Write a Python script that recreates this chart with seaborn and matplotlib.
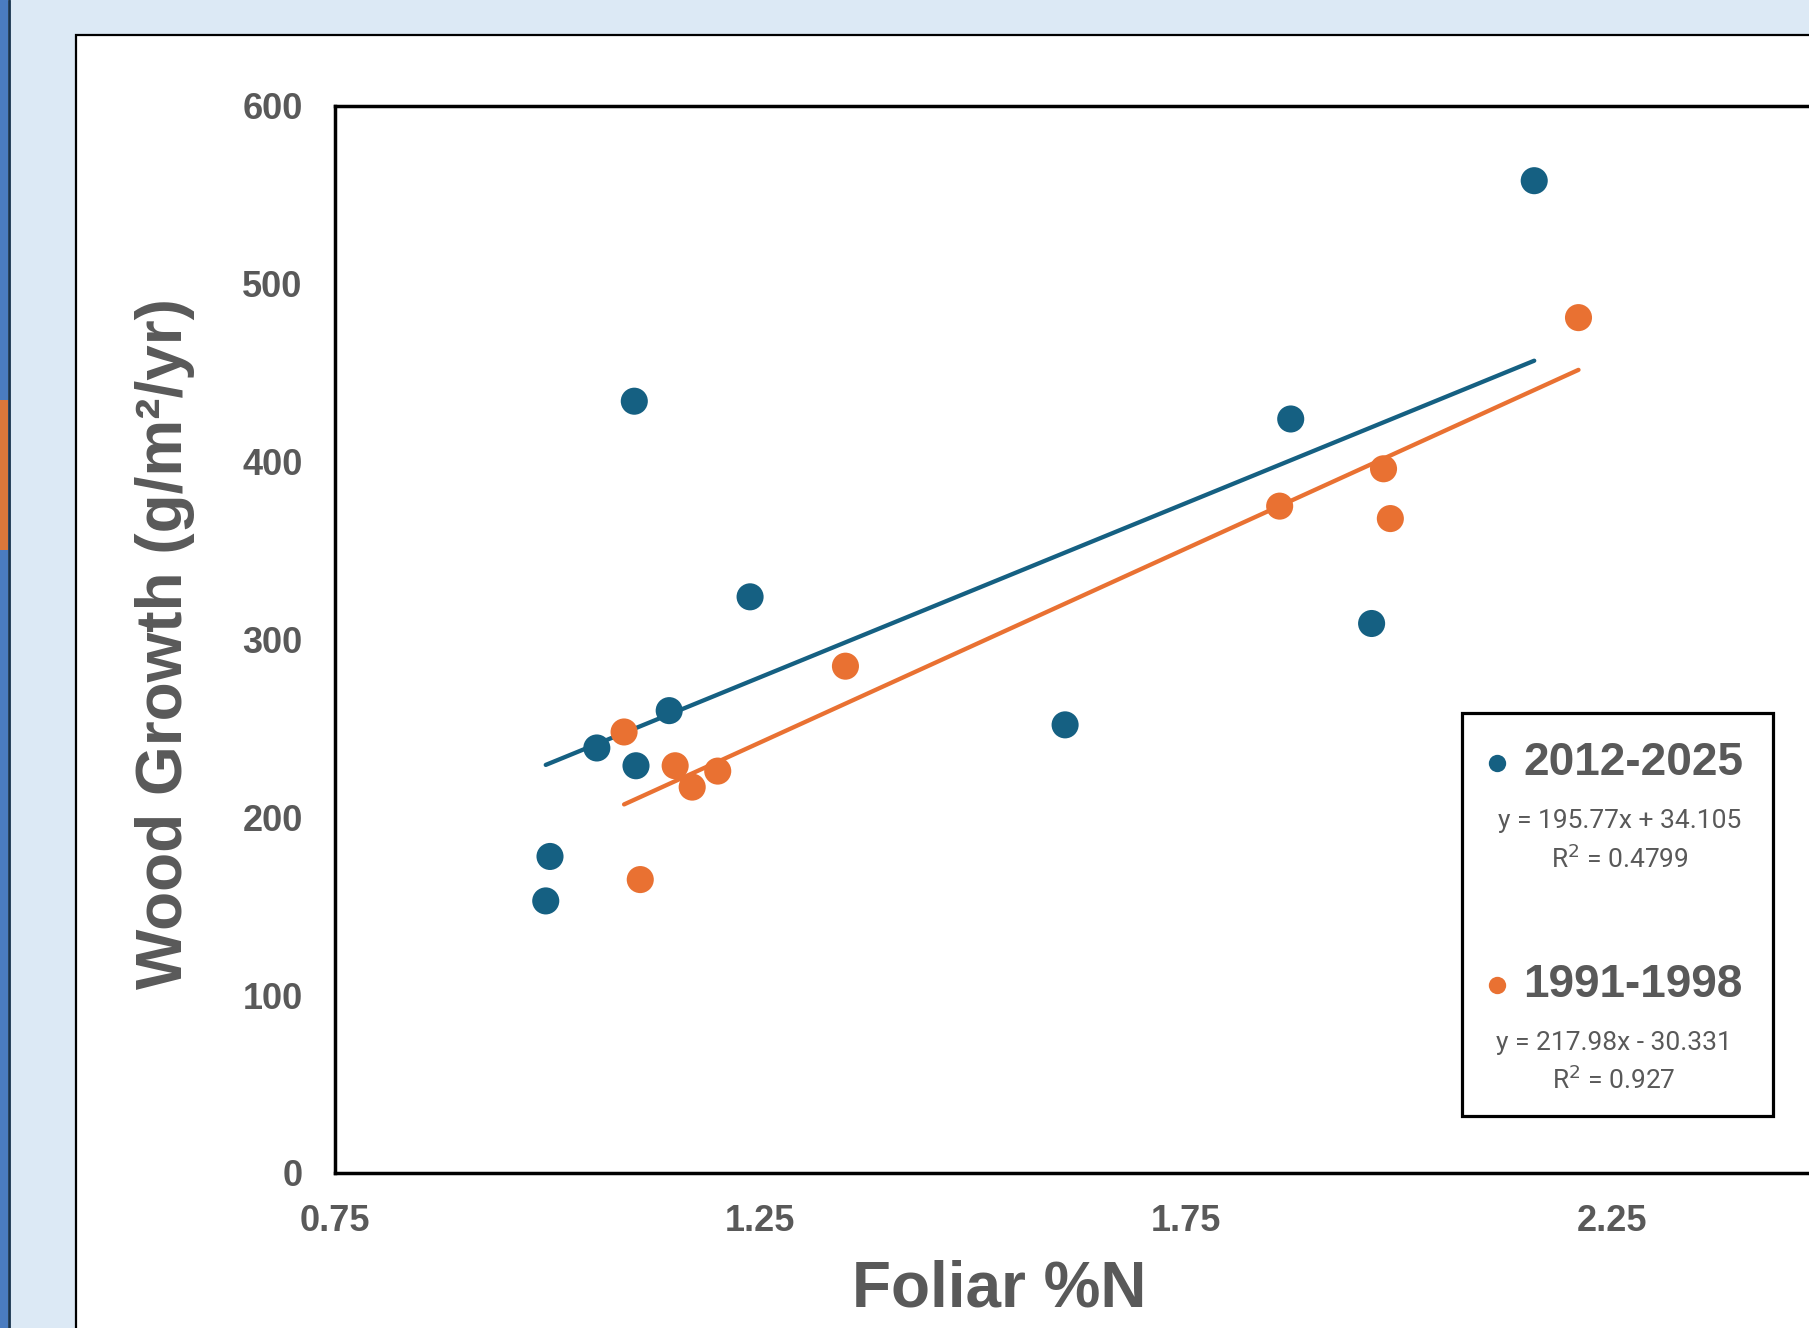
import numpy as np
import pandas as pd
import matplotlib
matplotlib.use("Agg")
import matplotlib.pyplot as plt
import seaborn as sns
from matplotlib.patches import Rectangle
from matplotlib.lines import Line2D

# data
recent_n = [1.102, 2.159, 1.873, 1.238, 1.968, 1.143, 1.608, 1.058, 1.104, 1.003, 0.998]
recent_growth = [434, 558, 424, 324, 309, 260, 252, 239, 229, 178, 153]
old_n = [2.211, 1.982, 1.860, 1.990, 1.350, 1.090, 1.150, 1.200, 1.170, 1.109]
old_growth = [481, 396, 375, 368, 285, 248, 229, 226, 217, 165]

periods = ["2012-2025", "1991-1998"]
slopes = [195.77, 217.98]
intercepts = [34.105, -30.331]
r2 = [0.4799, 0.927]
colors = ["#156082", "#E97132"]
x_ticks = [0.75, 1.25, 1.75, 2.25]
y_ticks = [0, 100, 200, 300, 400, 500, 600]

df = pd.DataFrame({
    "n": recent_n + old_n,
    "growth": recent_growth + old_growth,
    "period": [periods[0]] * len(recent_n) + [periods[1]] * len(old_n),
})

W, H = 1809, 1328
grey = "#595959"
bold_font = "Liberation Sans"

sns.set_style("white")
plt.rcParams["font.family"] = ["Liberation Sans", "DejaVu Sans"]

fig = plt.figure(figsize=(W / 100, H / 100), dpi=100)
fig.patch.set_facecolor("#DCE9F5")


def fx(px):
    return px / W


def fy(py):
    return 1 - py / H


# slide background pieces (behind the axes)
fig.add_artist(Rectangle((0, 0), fx(8), 1, transform=fig.transFigure,
                         facecolor="#4a7cc0", edgecolor="none", zorder=-10))
fig.add_artist(Rectangle((0, fy(550)), fx(8), fy(400) - fy(550), transform=fig.transFigure,
                         facecolor="#d9773a", edgecolor="none", zorder=-10))
fig.add_artist(Line2D([fx(8.5), fx(8.5)], [0, 1], transform=fig.transFigure,
                      color="#17334d", lw=2, zorder=-9))
fig.add_artist(Rectangle((fx(76), -0.1), 1.2, fy(35) + 0.1, transform=fig.transFigure,
                         facecolor="white", edgecolor="black", lw=1.6, zorder=-8))

# main axes, extends past right edge like the cropped original
ax = fig.add_axes([fx(334.6), fy(1173), 2 * 851.4 / W, (1173 - 106) / H])
ax.set_facecolor("white")

for i, p in enumerate(periods):
    sub = df[df["period"] == p]
    xs = np.array([sub["n"].min(), sub["n"].max()])
    ax.plot(xs, slopes[i] * xs + intercepts[i], color=colors[i], lw=3.1,
            solid_capstyle="round", zorder=2)

sns.scatterplot(data=df, x="n", y="growth", hue="period", palette=colors,
                s=380, edgecolor="none", legend=False, ax=ax, zorder=3)

ax.set_xlim(0.75, 2.75)
ax.set_ylim(0, 600)
ax.set_xticks(x_ticks)
ax.set_yticks(y_ticks)
ax.set_xticklabels([f"{t:.2f}" for t in x_ticks])
ax.tick_params(length=0, labelsize=26, labelcolor=grey)
ax.tick_params(axis="y", pad=23)
ax.tick_params(axis="x", pad=22)
for lab in ax.get_xticklabels() + ax.get_yticklabels():
    lab.set_fontweight("bold")
for s in ["left", "bottom", "top"]:
    ax.spines[s].set_color("black")
    ax.spines[s].set_linewidth(2.5)
ax.spines["right"].set_visible(False)

ax.set_xlabel("Foliar %N", fontsize=46, fontweight="bold", color=grey)
ax.xaxis.label.set_va("center")
ax.xaxis.set_label_coords(0.390, -0.1096)
ax.set_ylabel("Wood Growth (g/m²/yr)", fontsize=46, fontweight="bold", color=grey)
ax.yaxis.label.set_va("center")
ax.yaxis.set_label_coords(-0.0996, 0.496)

# legend box with trendline equations
fig.add_artist(Rectangle((fx(1461.5), fy(1116)), fx(1772.5) - fx(1461.5), fy(713) - fy(1116),
                         transform=fig.transFigure, facecolor="white",
                         edgecolor="black", lw=2.3, zorder=5))
rows = [(763, 821, 859), (985, 1043, 1080)]
eq_x = [1620, 1614]
for i, p in enumerate(periods):
    ty, ey, ry = rows[i]
    fig.add_artist(Line2D([fx(1496.5)], [fy(ty)], transform=fig.transFigure, marker="o",
                          markersize=12.5, color=colors[i], markeredgewidth=0, zorder=6))
    fig.text(fx(1523), fy(ty), p, fontsize=33, fontweight="bold", color=grey,
             ha="left", va="center", family=bold_font, zorder=6)
    sign = "+" if intercepts[i] >= 0 else "-"
    fig.text(fx(eq_x[i]), fy(ey), f"y = {slopes[i]}x {sign} {abs(intercepts[i])}",
             fontsize=19, color=grey, ha="center", va="center", family="Roboto", zorder=6)
    fig.text(fx(eq_x[i]), fy(ry), f"R$^2$ = {r2[i]}", fontsize=19, color=grey,
             ha="center", va="center", family="Roboto", zorder=6)

fig.savefig("out.png", dpi=100, facecolor=fig.get_facecolor())
